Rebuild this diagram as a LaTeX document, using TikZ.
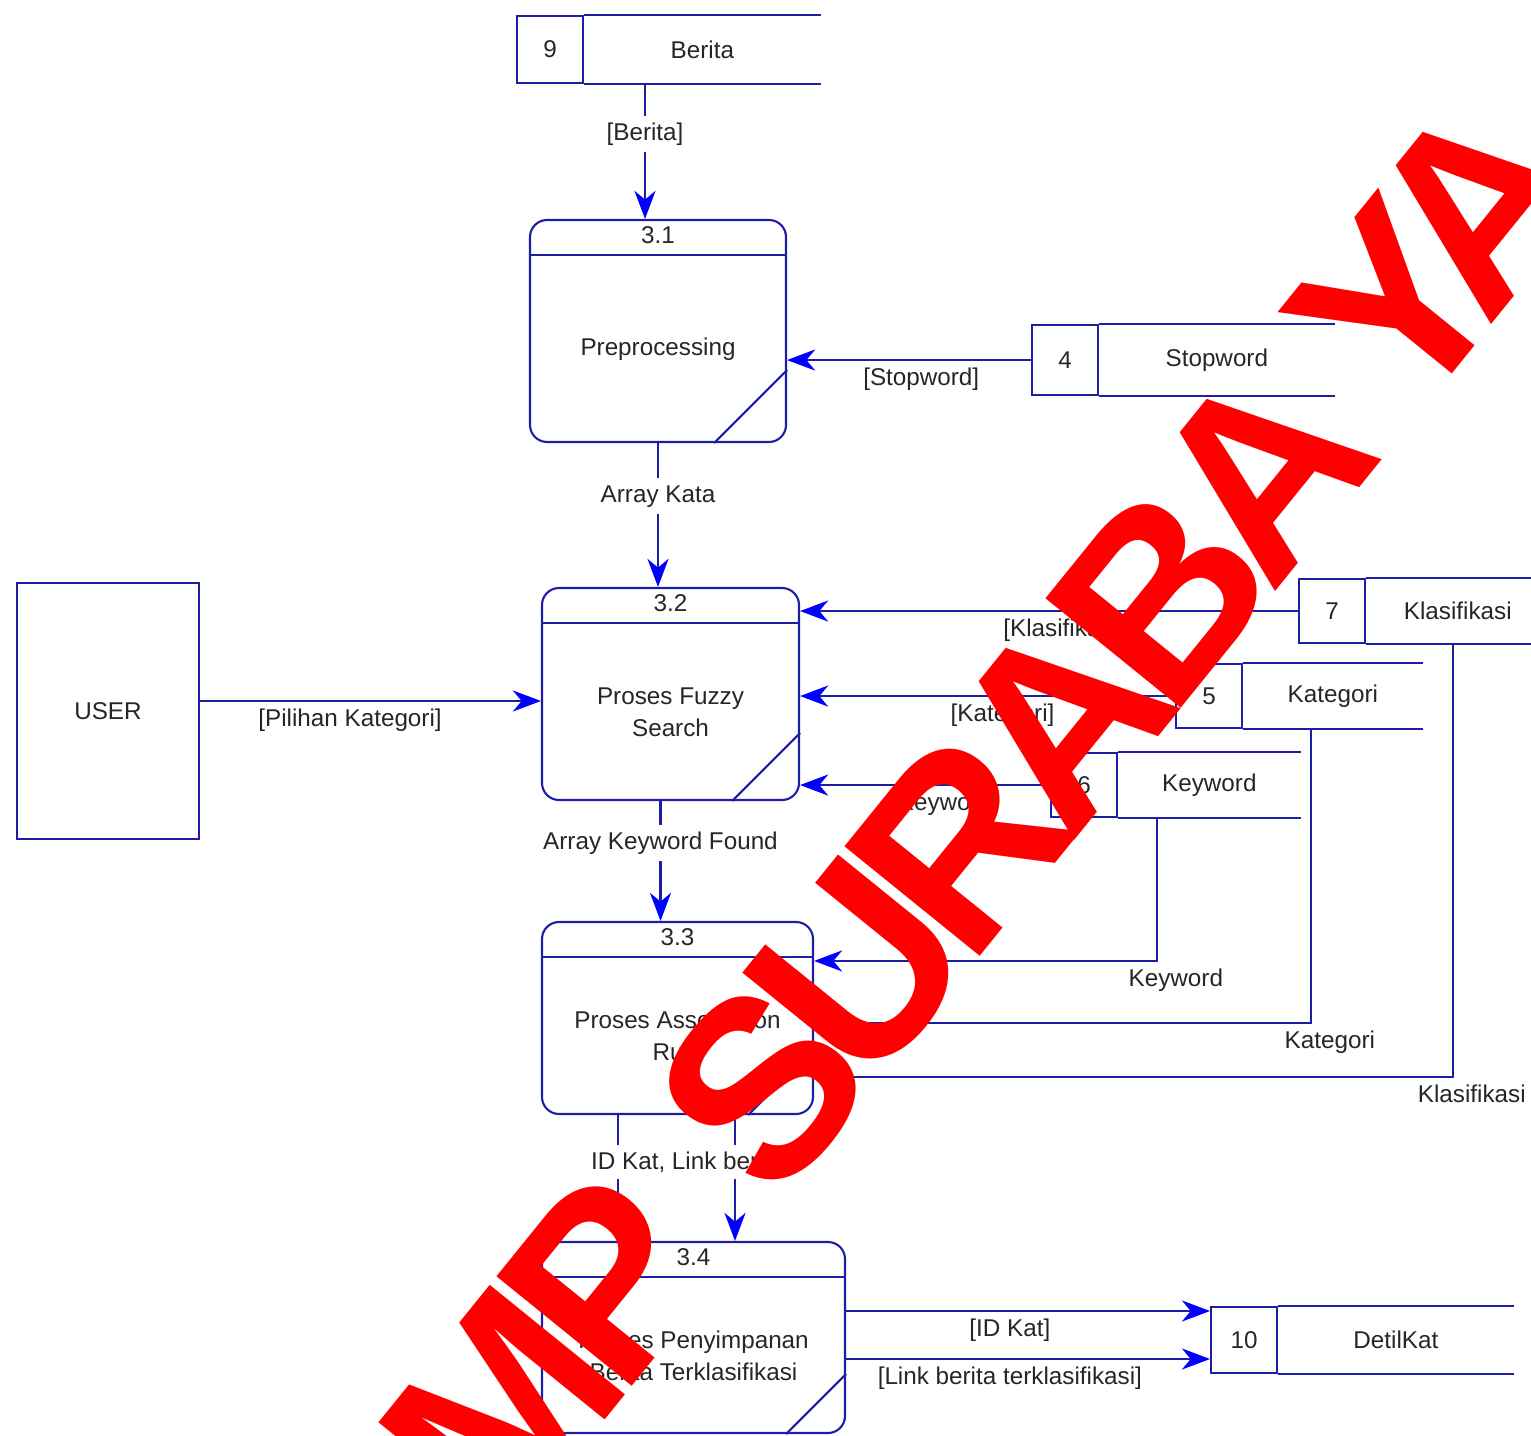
\documentclass[tikz,border=0pt]{standalone}
\usepackage{fontspec}
\setmainfont{Liberation Sans}
\usetikzlibrary{arrows.meta,calc}
\definecolor{dfd}{RGB}{30,30,165}
\definecolor{tipblue}{RGB}{0,0,255}
\tikzset{
  dfdline/.style={draw=dfd,line width=0.6pt},
  flow/.style={dfdline,-{Stealth[length=8pt,width=6pt,inset=2.5pt,color=tipblue]}},
  txt/.style={text=black!85,font=\fontsize{6.9}{9.1}\selectfont,align=center,inner sep=1pt},
  lbl/.style={txt,fill=white,inner sep=2pt},
  proc/.style={dfdline,rounded corners=0.17cm,inner sep=0pt},
  store/.style={dfdline,txt,inner sep=0pt}
}
\begin{document}
\begin{tikzpicture}[x=1cm,y=-1cm]
\useasboundingbox(0,0)rectangle(15.31,14.36);
\foreach \n/\k/\x/\y/\w/\h/\d/\t in {p31/3.1/6.58/3.31/2.56/2.22/0.73/Preprocessing,
  p32/3.2/6.705/6.94/2.57/2.12/0.68/{Proses Fuzzy\\Search},
  p33/3.3/6.775/10.18/2.71/1.92/0.66/{Proses Association\\Rule},
  p34/3.4/6.935/13.375/3.03/1.91/0.6/{Proses Penyimpanan\\Berita Terklasifikasi}}{
  \node[proc,minimum width=\w cm,minimum height=\h cm](\n)at(\x,\y){};
  \draw[dfdline]([yshift=-0.36cm]\n.north west)--([yshift=-0.36cm]\n.north east);
  \draw[dfdline]([xshift=-\d cm]\n.south east)--([yshift=\d cm]\n.south east);
  \node[txt]at([yshift=-0.16cm]\n.north){\k};
  \node[txt]at($(\n.south)!0.5!([yshift=-0.36cm]\n.north)$){\t};
}
\foreach \n/\x/\y/\h/\l/\t in {9/5.16/0.15/0.67/3.01/Berita,4/10.31/3.24/0.70/3.0/Stopword,
  7/12.98/5.78/0.64/2.48/Klasifikasi,5/11.75/6.63/0.64/2.44/Kategori,
  6/10.50/7.52/0.64/2.47/Keyword,10/12.10/13.06/0.66/3.0/DetilKat}{
  \node[store,minimum width=0.66cm,minimum height=\h cm,anchor=north west](d\n)at(\x,\y){\n};
  \node[txt,minimum width=\l cm-0.66cm,minimum height=\h cm,anchor=west](s\n)at(d\n.east){\t};
  \draw[dfdline](s\n.north west)--(s\n.north east)(s\n.south west)--(s\n.south east);
}
\node[store,minimum width=1.82cm,minimum height=2.56cm](user)at(1.08,7.11){USER};
\coordinate(b9)at([xshift=-0.13cm]p31.north);
\coordinate(u1)at([yshift=0.1cm]user.east);
\coordinate(a2)at([xshift=-0.1cm]p32.south);
\draw[flow](b9|-d9.south)--node[lbl,pos=0.37]{[Berita]}(b9);
\draw[flow](d4.west)--node[txt,pos=0.45,below=1pt]{[Stopword]}(d4.west-|p31.east);
\draw[flow](p31.south)--node[lbl,pos=0.37]{Array Kata}(p31.south|-p32.north);
\draw[flow](u1)--node[txt,pos=0.44,below=1pt]{[Pilihan Kategori]}(u1-|p32.west);
\foreach \s/\p/\t in {7/0.47/Klasifikasi,5/0.46/Kategori,6/0.42/Keyword}
  \draw[flow](d\s.west)--node[txt,pos=\p,below=1pt]{[\t]}(d\s.west-|p32.east);
\draw[flow](a2)--node[lbl,pos=0.35]{Array Keyword Found}(a2|-p33.north);
\coordinate(k6)at([xshift=-0.525cm]s6.south);
\coordinate(k5)at([xshift=-0.22cm]s5.south);
\coordinate(k7)at([xshift=-0.05cm]s7.south);
\coordinate(r6)at([yshift=-0.4cm]p33.north east);
\coordinate(r5)at([yshift=-0.05cm]p33.east);
\coordinate(r7)at([yshift=0.38cm]p33.south east);
\foreach \s/\t in {6/Keyword,5/Kategori,7/Klasifikasi}
  \draw[flow](k\s)|-node[txt,pos=0.5,below=1pt,xshift=0.19cm]{\t}(r\s);
\coordinate(i1)at([xshift=-0.595cm]p33.south);
\coordinate(i2)at([xshift=0.575cm]p33.south);
\draw[flow](i1)--(i1|-p34.north);
\draw[flow](i2)--(i2|-p34.north);
\node[lbl]at([xshift=0.1cm,yshift=-0.47cm]p33.south){ID Kat, Link berita};
\coordinate(o1)at([yshift=0.265cm]p34.east);
\coordinate(o2)at([yshift=-0.215cm]p34.east);
\draw[flow](o1)--node[txt,pos=0.45,below=1pt]{[ID Kat]}(o1-|d10.west);
\draw[flow](o2)--node[txt,pos=0.45,below=1pt]{[Link berita terklasifikasi]}(o2-|d10.west);
\node[rotate=51,anchor=base west,inner sep=0pt,text=red,font=\fontsize{72}{72}\selectfont\bfseries\addfontfeature{LetterSpace=-9}](wm)at(5.03,15.46){MP\kern0.12em\ SURABA\kern0.15em YA};
\end{tikzpicture}
\end{document}
